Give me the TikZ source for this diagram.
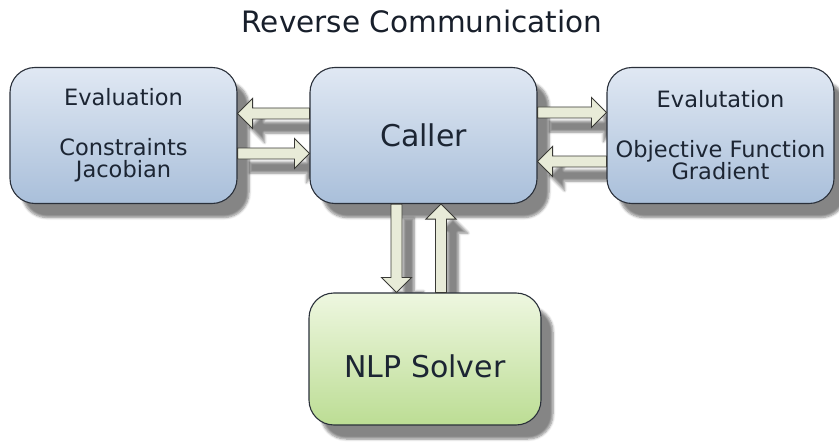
\documentclass[tikz,border=0pt]{standalone}
\usepackage{fontspec}
\setmainfont{DejaVu Sans}
\usetikzlibrary{calc,shadows.blur}
\pgfdeclarelayer{shadowlayer}
\pgfsetlayers{shadowlayer,main}

\definecolor{boxblueA}{HTML}{E0E8F3}
\definecolor{boxblueB}{HTML}{A9BFDA}
\definecolor{boxgreenA}{HTML}{EEF7E0}
\definecolor{boxgreenB}{HTML}{BCDD94}
\definecolor{edgeink}{HTML}{2A303A}
\definecolor{textink}{HTML}{1C2533}
\definecolor{arrowfill}{HTML}{E8EBD8}
\definecolor{arrowink}{HTML}{3A3A36}

\tikzset{
  dropshadow/.style={blur shadow={shadow xshift=12pt, shadow yshift=-14pt,
      shadow blur radius=2.5pt, shadow blur steps=6, shadow opacity=48}},
  panel/.style={draw=edgeink, line width=1.1pt, rounded corners=25pt,
      inner sep=0pt, align=center, text=textink, dropshadow},
  bluepanel/.style={panel, top color=boxblueA, bottom color=boxblueB,
      minimum width=227pt, minimum height=136pt},
  greenpanel/.style={panel, top color=boxgreenA, bottom color=boxgreenB,
      minimum width=232pt, minimum height=132pt},
  evaltext/.style={font=\fontsize{22.5}{22}\selectfont},
  bigtext/.style={font=\fontsize{30}{32}\selectfont},
  arrowbody/.style={fill=arrowfill, draw=arrowink, line width=0.9pt, line join=miter},
  arrowshade/.style={dropshadow},
}

% broad outlined arrow from #1 to #2 (shaft half width 5.5, head 15 x 15)
\newcommand\fatarrowpath[2]{%
  let \p1=(#1), \p2=(#2), \n1={veclen(\x2-\x1,\y2-\y1)},
      \n2={(\x2-\x1)/\n1}, \n3={(\y2-\y1)/\n1} in
  ({\x1-5.5*\n3},{\y1+5.5*\n2})
  -- ({\x2-15*\n2-5.5*\n3},{\y2-15*\n3+5.5*\n2})
  -- ({\x2-15*\n2-15*\n3},{\y2-15*\n3+15*\n2})
  -- (\p2)
  -- ({\x2-15*\n2+15*\n3},{\y2-15*\n3-15*\n2})
  -- ({\x2-15*\n2+5.5*\n3},{\y2-15*\n3-5.5*\n2})
  -- ({\x1+5.5*\n3},{\y1-5.5*\n2}) -- cycle}
\newcommand\fatarrow[2]{%
  \begin{pgfonlayer}{shadowlayer}
    \path[arrowshade] \fatarrowpath{#1}{#2};
  \end{pgfonlayer}
  \path[arrowbody] \fatarrowpath{#1}{#2};}

\begin{document}
\begin{tikzpicture}[x=1pt,y=1pt]
  \useasboundingbox (0,0) rectangle (839,-444);

  \node[font=\fontsize{29.5}{30}\selectfont, text=textink!85!black, anchor=base]
    (title) at (422,-33) {Reverse Communication};

  \node[bluepanel, evaltext] (evalc) at (123.5,-135.5)
    {Evaluation\\[28pt]Constraints\\Jacobian};
  \node[bluepanel, bigtext] (caller) at (423.5,-135.5) {Caller};
  \node[bluepanel, evaltext] (evalo) at (720.5,-135.5)
    {Evalutation\\[28pt]Objective Function\\Gradient};
  \node[greenpanel, bigtext] (nlp) at (425,-359)
    {\raisebox{-7pt}[\height][\depth]{NLP Solver}};

  % arrow end points on the panel borders
  \coordinate (c1) at ($(caller.west)+(0,22)$);
  \coordinate (e1) at (evalc.east |- c1);
  \coordinate (e2) at ($(evalc.east)+(0,-18)$);
  \coordinate (c2) at (caller.west |- e2);
  \coordinate (c3) at ($(caller.east)+(0,23)$);
  \coordinate (o3) at (evalo.west |- c3);
  \coordinate (o4) at ($(evalo.east)+(0,-26)$);
  \coordinate (o4) at (evalo.west |- o4);
  \coordinate (c4) at (caller.east |- o4);
  \coordinate (c5) at ($(caller.south)+(-27,0)$);
  \coordinate (n5) at (c5 |- nlp.north);
  \coordinate (n6) at ($(caller.south)+(17.5,0)$);
  \coordinate (n6) at (n6 |- nlp.north);
  \coordinate (c6) at (n6 |- caller.south);

  \fatarrow{c1}{e1}
  \fatarrow{e2}{c2}
  \fatarrow{c3}{o3}
  \fatarrow{o4}{c4}
  \fatarrow{c5}{n5}
  \fatarrow{n6}{c6}
\end{tikzpicture}
\end{document}
